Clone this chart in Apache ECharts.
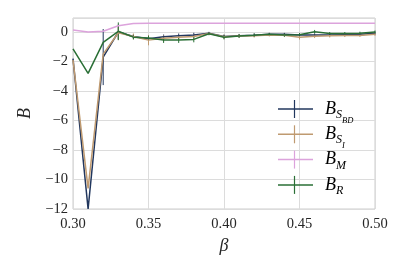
<!DOCTYPE html>
<html><head><meta charset="utf-8">
<script src="https://cdn.jsdelivr.net/npm/echarts@6/dist/echarts.min.js"></script>
<style>html,body{margin:0;padding:0;background:#fff}#c{width:407px;height:271px}</style>
</head><body><div id="c"></div>
<script>
var beta = [0.30,0.31,0.32,0.33,0.34,0.35,0.36,0.37,0.38,0.39,0.40,0.41,0.42,0.43,0.44,0.45,0.46,0.47,0.48,0.49,0.50];
var B_SBD = [-1.8,-12.0,-1.7,0.0,-0.3,-0.45,-0.32,-0.25,-0.2,-0.09,-0.3,-0.25,-0.22,-0.16,-0.16,-0.2,-0.2,-0.2,-0.18,-0.16,-0.08];
var B_SI  = [-1.9,-10.6,-1.5,-0.05,-0.3,-0.55,-0.43,-0.35,-0.3,-0.1,-0.32,-0.27,-0.25,-0.2,-0.22,-0.36,-0.29,-0.25,-0.24,-0.23,-0.16];
var B_M   = [0.13,0.0,0.05,0.42,0.58,0.6,0.6,0.6,0.6,0.6,0.6,0.6,0.6,0.6,0.6,0.6,0.6,0.6,0.6,0.6,0.6];
var B_R   = [-1.15,-2.8,-0.7,0.05,-0.35,-0.4,-0.54,-0.54,-0.5,-0.12,-0.35,-0.27,-0.22,-0.16,-0.2,-0.18,0.02,-0.1,-0.1,-0.08,0.0];
var err_SBD = [0,0,1.9,0.5,0.15,0.15,0.15,0.15,0.15,0.1,0.12,0.12,0.12,0.1,0.1,0.12,0.1,0.1,0.1,0.1,0.1];
var err_SI  = [0,0,0,0.5,0.2,0.35,0.2,0.15,0.15,0.1,0.15,0.12,0.12,0.1,0.12,0.15,0.12,0.12,0.1,0.1,0.1];
var err_R   = [0,0,0,0.6,0.15,0.15,0.2,0.2,0.2,0.1,0.15,0.12,0.12,0.1,0.12,0.1,0.12,0.1,0.1,0.1,0.1];
var xTicks = [0.30,0.35,0.40,0.45,0.50];
var yTicks = [-12,-10,-8,-6,-4,-2,0];

var C_SBD='#22375e', C_SI='#bf9a70', C_M='#dca3dc', C_R='#2a6f36';
var SERIF='Liberation Serif, DejaVu Serif, serif';

function pairs(ys){return beta.map(function(b,i){return [b,ys[i]];});}
function errData(ys,es){return beta.map(function(b,i){return [b,ys[i]-es[i],ys[i]+es[i]];});}
function errSeries(ys,es,color){
  return {type:'custom',data:errData(ys,es),z:3,silent:true,
    renderItem:function(params,api){
      var p1=api.coord([api.value(0),api.value(1)]);
      var p2=api.coord([api.value(0),api.value(2)]);
      return {type:'line',shape:{x1:p1[0],y1:p1[1],x2:p2[0],y2:p2[1]},style:{stroke:color,lineWidth:1}};
    }};
}
function lineSeries(name,ys,color,z){
  return {name:name,type:'line',data:pairs(ys),showSymbol:false,symbol:'none',z:z,
    lineStyle:{color:color,width:1.5},itemStyle:{color:color}};
}
var rich={
  b:{fontFamily:SERIF,fontStyle:'italic',fontSize:18,color:'#262626',verticalAlign:'middle',lineHeight:26},
  s:{fontFamily:SERIF,fontStyle:'italic',fontSize:12,color:'#262626',verticalAlign:'bottom',lineHeight:26,padding:[0,0,1,0]},
  ss:{fontFamily:SERIF,fontStyle:'italic',fontSize:8.5,color:'#262626',verticalAlign:'bottom',lineHeight:26,padding:[0,0,-3,0]}
};
var legendItems=[
  {color:C_SBD,text:'{b|B}{s|S}{ss|BD}'},
  {color:C_SI,text:'{b|B}{s|S}{ss|I}'},
  {color:C_M,text:'{b|B}{s|M}'},
  {color:C_R,text:'{b|B}{s|R}'}
];
var graphics=[];
legendItems.forEach(function(it,i){
  var y=109+i*25.3;
  graphics.push({type:'line',shape:{x1:278,y1:y,x2:313,y2:y},style:{stroke:it.color,lineWidth:1.5},z:10});
  graphics.push({type:'line',shape:{x1:294.5,y1:y-9,x2:294.5,y2:y+9},style:{stroke:it.color,lineWidth:1.2},z:10});
  graphics.push({type:'text',x:325,y:y,z:10,style:{text:it.text,rich:rich,verticalAlign:'middle',align:'left'}});
});

var chart=echarts.init(document.getElementById('c'),null,{renderer:'canvas'});
chart.setOption({
  animation:false,
  backgroundColor:'#ffffff',
  grid:{left:73,right:32,top:18,bottom:62,show:true,borderColor:'#cccccc',borderWidth:1,backgroundColor:'transparent'},
  xAxis:{type:'value',min:0.30,max:0.50,interval:0.05,
    name:'β',nameLocation:'middle',nameGap:26,
    nameTextStyle:{fontFamily:SERIF,fontStyle:'italic',fontSize:18,color:'#262626'},
    axisLine:{show:false},axisTick:{show:false},
    axisLabel:{fontFamily:SERIF,fontSize:14.5,color:'#262626',margin:8,
      formatter:function(v){return xTicks.some(function(t){return Math.abs(t-v)<1e-9;})?v.toFixed(2):'';}},
    splitLine:{show:true,lineStyle:{color:'#dcdcdc',width:1}}},
  yAxis:{type:'value',min:-12,max:0.95,interval:2,
    name:'B',nameLocation:'middle',nameGap:37,nameRotate:90,
    nameTextStyle:{fontFamily:SERIF,fontStyle:'italic',fontSize:18,color:'#262626'},
    axisLine:{show:false},axisTick:{show:false},
    axisLabel:{fontFamily:SERIF,fontSize:14.5,color:'#262626',margin:5,showMaxLabel:false,
      formatter:function(v){var t=Math.round(v);if(Math.abs(v-t)>1e-6||yTicks.indexOf(t)<0)return '';return t<0?'\u2212'+(-t):String(t);}},
    splitLine:{show:true,lineStyle:{color:'#dcdcdc',width:1}}},
  graphic:graphics,
  series:[
    lineSeries('B_SBD',B_SBD,C_SBD,5),
    errSeries(B_SBD,err_SBD,C_SBD),
    lineSeries('B_SI',B_SI,C_SI,6),
    errSeries(B_SI,err_SI,C_SI),
    lineSeries('B_M',B_M,C_M,4),
    lineSeries('B_R',B_R,C_R,7),
    errSeries(B_R,err_R,C_R)
  ]
});
</script></body></html>
